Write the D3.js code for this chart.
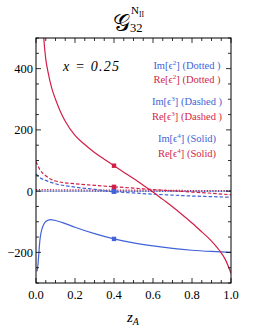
<!DOCTYPE html>
<html>
<head>
<meta charset="utf-8">
<script src="https://cdn.jsdelivr.net/npm/d3@7"></script>
<style>
body { margin: 0; background: #fff; }
text { font-family: "Liberation Serif", "DejaVu Serif", serif; }
</style>
</head>
<body>
<div id="chart"></div>
<script>
// data
var zRe4 = [0.03, 0.04, 0.05, 0.062, 0.08, 0.1, 0.125, 0.15, 0.2, 0.25, 0.3, 0.35, 0.4, 0.45, 0.5, 0.55, 0.6, 0.65, 0.7, 0.75, 0.8, 0.85, 0.9, 0.94, 0.97, 1.0];
var re4 = [640, 500, 432, 388, 338, 300, 260, 228, 182, 152, 126, 104, 83, 62, 41, 19, -3, -27, -51, -77, -104, -133, -163, -193, -222, -268];
var zIm4 = [0.005, 0.01, 0.015, 0.02, 0.03, 0.04, 0.05, 0.075, 0.1, 0.15, 0.2, 0.3, 0.4, 0.5, 0.6, 0.7, 0.8, 0.9, 1.0];
var im4 = [-262, -240, -200, -160, -125, -108, -99, -93, -96, -106, -118, -139, -156, -169, -179, -187, -193, -197, -200];
var z3 = [0.0, 0.02, 0.05, 0.1, 0.2, 0.3, 0.4, 0.5, 0.6, 0.7, 0.8, 0.9, 1.0];
var re3 = [97, 70, 50, 33, 24, 19, 14, 10, 5, 1, -3, -7, -12];
var im3 = [56, 44, 35, 24, 13, 6, -2, -6, -10, -13, -16, -18, -20];
var z2 = [0.0, 0.2, 0.4, 0.6, 0.8, 1.0];
var re2 = [5, 4, 3, 3, 2, 2];
var im2 = [0, 0, -1, -1, -1, -1];
var xTicks = [0, 0.2, 0.4, 0.6, 0.8, 1.0];
var yTicks = [-200, 0, 200, 400];
var zMark = 0.4;

var blue = "#4263d8", red = "#d21f48";

var W = 267, H = 332;
var m = {left: 36, right: 36, top: 38, bottom: 49};
var svg = d3.select("#chart").append("svg").attr("width", W).attr("height", H);

var x = d3.scaleLinear().domain([0, 1]).range([m.left, W - m.right]);
var y = d3.scaleLinear().domain([-300, 500]).range([H - m.bottom, m.top]);

svg.append("clipPath").attr("id", "clip").append("rect")
    .attr("x", m.left).attr("y", m.top)
    .attr("width", x(1) - x(0)).attr("height", y(-300) - y(500));

// zero line
svg.append("line")
    .attr("x1", x(0)).attr("x2", x(1)).attr("y1", y(0)).attr("y2", y(0))
    .style("stroke", "#999").style("stroke-width", 0.8);

var series = [
    {z: z2, v: re2, c: red, dash: "1.2,1.6"},
    {z: z2, v: im2, c: blue, dash: "1.2,1.6"},
    {z: z3, v: re3, c: red, dash: "3.5,2"},
    {z: z3, v: im3, c: blue, dash: "3.5,2"},
    {z: zIm4, v: im4, c: blue, dash: null},
    {z: zRe4, v: re4, c: red, dash: null}
];

var line = d3.line().curve(d3.curveMonotoneX)
    .x(function(d) { return x(d[0]); })
    .y(function(d) { return y(d[1]); });

var g = svg.append("g").attr("clip-path", "url(#clip)");
series.forEach(function(s) {
    var pts = s.z.map(function(z, i) { return [z, s.v[i]]; });
    g.append("path").datum(pts)
        .attr("d", line)
        .style("fill", "none")
        .style("stroke", s.c)
        .style("stroke-width", 1.2)
        .style("stroke-dasharray", s.dash);
    // marker at z = 0.4
    var i = s.z.indexOf(zMark);
    var v;
    if (i >= 0) {
        v = s.v[i];
    } else {
        var j = d3.bisectLeft(s.z, zMark);
        var t = (zMark - s.z[j - 1]) / (s.z[j] - s.z[j - 1]);
        v = s.v[j - 1] + t * (s.v[j] - s.v[j - 1]);
    }
    g.append("rect")
        .attr("x", x(zMark) - 2.2).attr("y", y(v) - 2.2)
        .attr("width", 4.4).attr("height", 4.4)
        .style("fill", s.c);
});

// frame
svg.append("rect")
    .attr("x", x(0)).attr("y", y(500))
    .attr("width", x(1) - x(0)).attr("height", y(-300) - y(500))
    .style("fill", "none").style("stroke", "#000").style("stroke-width", 1);

// ticks (inward on all sides)
var frame = svg.append("g").style("stroke", "#000").style("stroke-width", 0.8);
d3.range(0, 1.0001, 0.05).forEach(function(t) {
    var major = Math.abs(t * 5 - Math.round(t * 5)) < 1e-6;
    var len = major ? 5 : 3;
    frame.append("line").attr("x1", x(t)).attr("x2", x(t)).attr("y1", y(-300)).attr("y2", y(-300) - len);
    frame.append("line").attr("x1", x(t)).attr("x2", x(t)).attr("y1", y(500)).attr("y2", y(500) + len);
});
d3.range(-300, 500.1, 50).forEach(function(t) {
    var major = t % 200 === 0;
    var len = major ? 5 : 3;
    frame.append("line").attr("y1", y(t)).attr("y2", y(t)).attr("x1", x(0)).attr("x2", x(0) + len);
    frame.append("line").attr("y1", y(t)).attr("y2", y(t)).attr("x1", x(1)).attr("x2", x(1) - len);
});

svg.selectAll(".xl").data(xTicks).enter().append("text")
    .attr("x", function(d) { return x(d); })
    .attr("y", y(-300) + 16)
    .attr("text-anchor", "middle")
    .style("font-size", "12.5px")
    .text(function(d) { return d3.format(".1f")(d); });

svg.selectAll(".yl").data(yTicks).enter().append("text")
    .attr("x", x(0) - 3)
    .attr("y", function(d) { return y(d) + 4.5; })
    .attr("text-anchor", "end")
    .style("font-size", "12.5px")
    .text(function(d) { return d < 0 ? "\u2212" + (-d) : d; });

// axis label
var xl = svg.append("text").attr("x", 127).attr("y", 322).style("font-size", "15px");
xl.append("tspan").style("font-style", "italic").text("z");
xl.append("tspan").attr("dy", 3).style("font-size", "10px").style("font-style", "italic").text("A");

// title
svg.append("text").attr("x", 113).attr("y", 31).style("font-size", "24px").text("\uD835\uDCA2");
var sup = svg.append("text").attr("x", 131).attr("y", 14).style("font-size", "11px");
sup.append("tspan").text("N");
sup.append("tspan").attr("dy", 2.5).style("font-size", "7.5px").text("II");
svg.append("text").attr("x", 130).attr("y", 32).style("font-size", "12.5px").text("32");

// x = 0.25
svg.append("text").attr("x", 63).attr("y", 71)
    .style("font-size", "14px").style("font-style", "italic")
    .attr("textLength", 56)
    .text("x  =  0.25");

// legend
var legend = [
    {p: "Im", n: "2", s: "Dotted )", c: blue, y: 65},
    {p: "Re", n: "2", s: "Dotted )", c: red, y: 79.5},
    {p: "Im", n: "3", s: "Dashed )", c: blue, y: 101.5},
    {p: "Re", n: "3", s: "Dashed )", c: red, y: 116},
    {p: "Im", n: "4", s: "Solid)", c: blue, y: 138.5},
    {p: "Re", n: "4", s: "Solid)", c: red, y: 153}
];
legend.forEach(function(l) {
    var t = svg.append("text").attr("x", 187).attr("y", l.y + 3.5)
        .attr("text-anchor", "middle")
        .style("font-size", "10.5px").style("fill", l.c);
    t.append("tspan").text(l.p + "[\u03F5");
    t.append("tspan").attr("dy", -4).style("font-size", "7px").text(l.n);
    t.append("tspan").attr("dy", 4).text("] (" + l.s);
});
</script>
</body>
</html>
